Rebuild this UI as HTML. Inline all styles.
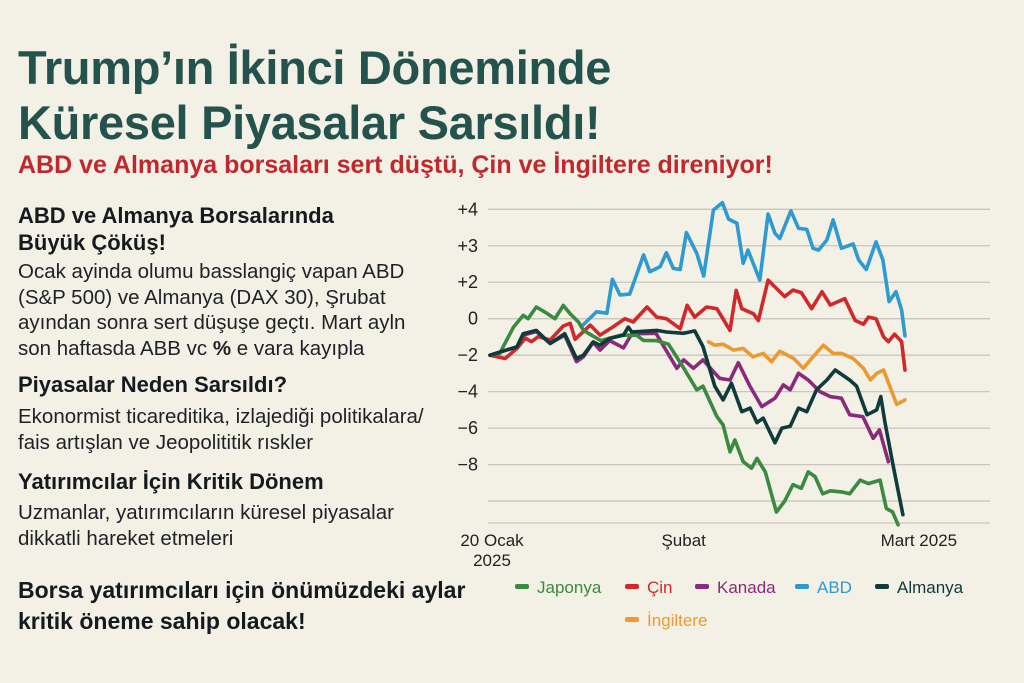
<!DOCTYPE html>
<html><head><meta charset="utf-8">
<style>
body{margin:0;width:1024px;height:683px;background:#f3f0e6;font-family:"Liberation Sans",sans-serif;overflow:hidden;position:relative}
.t{position:absolute;white-space:nowrap;margin:0}
h1.t{font-size:47px;font-weight:bold;color:#24524c;line-height:55px;left:18px;top:40px;letter-spacing:-0.3px}
.sub{font-size:25px;font-weight:bold;color:#c1282e;left:18px;top:151px}
.h{font-size:22px;font-weight:bold;color:#141a1e}
.b{font-size:20.5px;color:#1d2226;line-height:25.5px}
.f{font-size:23px;font-weight:bold;color:#141a1e;line-height:31px}
svg{position:absolute;left:0;top:0}
</style></head><body>
<h1 class="t">Trump’ın İkinci Döneminde<br>Küresel Piyasalar Sarsıldı!</h1>
<div class="t sub">ABD ve Almanya borsaları sert düştü, Çin ve İngiltere direniyor!</div>
<div class="t h" style="left:18px;top:202px;line-height:27px">ABD ve Almanya Borsalarında<br>Büyük Çöküş!</div>
<div class="t b" style="left:18px;top:259px">Ocak ayinda olumu basslangiç vapan ABD<br>(S&amp;P 500) ve Almanya (DAX 30), Şrubat<br>ayından sonra sert düşuşe geçtı. Mart ayln<br>son haftasda ABB vc <b>%</b> e vara kayıpla</div>
<div class="t h" style="left:18px;top:372px">Piyasalar Neden Sarsıldı?</div>
<div class="t b" style="left:18px;top:404px">Ekonormist ticareditika, izlajediği politikalara/<br>fais artışlan ve Jeopolititik rıskler</div>
<div class="t h" style="left:18px;top:469px">Yatırımcılar İçin Kritik Dönem</div>
<div class="t b" style="left:18px;top:500px">Uzmanlar, yatırımcıların küresel piyasalar<br>dikkatli hareket etmeleri</div>
<div class="t f" style="left:18px;top:575px">Borsa yatırımcıları için önümüzdeki aylar<br>kritik öneme sahip olacak!</div>
<svg id="chart" width="1024" height="683"></svg>
<script>
const tickValues=[4,3,2,0,-2,-4,-6,-8,-10];
const tickLabels=["+4","+3","+2","0","−2","−4","−6","−8",""];
const xLabels=[["20 Ocak","2025"],["Şubat"],["Mart 2025"]];
const xLabelDays=[0,28,62];
const seriesNames=["Japonya","Çin","Kanada","ABD","Almanya","İngiltere"];
const seriesColors=["#3a8a3f","#d0292b","#8b2a7a","#2e9bd0","#0f3b3b","#eb9a32"];
const japonyaDays=[0,1.4,3.4,4.8,5.5,6.7,8.2,9.4,10.6,11.6,12.8,13.5,16,19,21.2,22.2,24.1,25.8,27.9,29.9,30.8,32.8,33.7,34.7,35.4,36.6,37.8,38.6,39.8,41.4,42.6,43.8,45,46,47,48.1,49.2,50.8,52,53.5,54.7,56.4,57.3,58.2,59];
const japonyaVals=[-2,-1.9,-0.46,0.18,0,0.64,0.3,0,0.73,0.27,-0.18,-0.64,-1.2,-0.9,-0.91,-1.19,-1.2,-1.4,-2.64,-3.9,-3.7,-5.37,-5.83,-7.3,-6.65,-7.84,-8.2,-7.66,-8.4,-10.6,-10,-9.1,-9.3,-8.4,-8.66,-9.6,-9.44,-9.5,-9.6,-8.85,-9.04,-8.85,-10.4,-10.6,-11.3];
const cinDays=[0,2.2,3.9,5.1,6,7,8.7,10.6,11.6,12.3,14.5,15.9,17.8,19.5,20.7,22.7,24.1,25.5,27.5,28.5,29.6,31.3,32.8,34.7,35.6,36.4,38.1,38.8,40.2,42.6,43.8,45,46.5,48,49.2,51.3,52.8,54,54.7,55.8,56.9,57.6,58.5,59.5,60];
const cinVals=[-2,-2.18,-1.63,-1.07,-1.26,-0.98,-1.17,-0.4,-0.25,-1.13,-0.35,-0.9,-0.45,0,-0.18,0.64,0.09,0,-0.55,0.73,0.09,0.64,0.55,-0.64,1.55,0.55,0.27,-0.1,2.06,1.21,1.57,1.43,0.55,1.48,0.75,1.1,-0.1,-0.3,0.09,0,-1,-1.26,-0.85,-1.26,-2.82];
const kanadaDays=[0,3.9,4.8,6.7,8.7,10.8,12.5,13.5,14.9,15.9,17.3,19.3,20.5,24,27,28,29.4,30.8,32.3,33.2,34.7,35.9,37.6,39.3,41.2,42.4,43.4,44.6,46,47.7,49.2,50.8,52,53.9,55.4,56.3,57.6];
const kanadaVals=[-2,-1.54,-0.9,-0.7,-1.36,-0.9,-2.35,-2.09,-1.3,-1.72,-1.2,-1.6,-0.82,-0.8,-2.72,-2.26,-2.72,-2.26,-2.9,-3.27,-3.36,-2.41,-3.72,-4.82,-4.36,-3.63,-3.9,-2.99,-3.36,-4,-4.27,-4.36,-5.27,-5.37,-6.56,-6.1,-7.84];
const abdDays=[13.3,15.4,16.9,17.7,18.8,20.2,22.2,23.1,24.6,25.5,26.5,27.5,28.4,29.9,30.9,32.3,33.6,34.5,35.7,36.6,37.3,39,40.2,41.2,41.9,43.5,44.6,45.8,46.7,47.5,48.7,49.6,50.8,52.5,53.3,54.4,55.8,56.8,57.7,58.7,59.5,60];
const abdVals=[-0.4,0.38,0.3,2.08,1.3,1.35,2.75,2.29,2.43,2.81,2.38,2.35,3.36,2.79,2.17,3.98,4.18,3.73,3.62,2.52,2.88,2.06,3.87,3.34,3.2,3.96,3.48,3.45,2.93,2.88,3.16,3.71,2.93,3.05,2.61,2.35,3.11,2.61,0.94,1.48,0.48,-0.94];
const almanyaDays=[0,3.9,4.8,6.7,8.7,10.8,12.5,13.5,14.9,15.9,17.3,19.3,20,20.5,24.1,25.5,28,29.6,30.8,32.5,33.7,34.9,36.4,37.6,38.6,39.5,41.2,42.2,43.4,44.6,45.8,47.2,48.7,49.9,52,53,54.5,55.9,56.5,57.1,58.3,59.7];
const almanyaVals=[-2,-1.54,-0.82,-0.64,-1.36,-0.82,-2.18,-2,-1.27,-1.45,-1.08,-0.9,-0.46,-0.73,-0.64,-0.73,-0.8,-0.67,-1.53,-3.7,-4.45,-3.54,-5.1,-4.9,-5.7,-5.45,-6.8,-6,-5.9,-4.9,-5.1,-3.9,-3.36,-2.81,-3.36,-3.7,-5.27,-5,-4.27,-5.7,-8.1,-10.75];
const ingiltereDays=[31.6,32.5,33.7,35.2,36.6,38,39.5,40.7,41.9,43.9,45.3,46.7,48.2,49.6,50.8,52.5,54,55,55.9,56.9,58.8,60];
const ingiltereVals=[-1.27,-1.45,-1.4,-1.72,-1.63,-2.09,-1.9,-2.36,-1.78,-2.18,-2.72,-2.09,-1.45,-1.9,-1.9,-2.18,-2.72,-3.36,-3,-2.81,-4.7,-4.45];

const NS="http://www.w3.org/2000/svg";
const svg=document.getElementById('chart');
function X(d){return 490+d*6.917;}
function Y(v){const lvl=v>=2?4-v:(6-v)/2;return 209.3+lvl*36.47;}
function mk(tag,attrs,parent){const e=document.createElementNS(NS,tag);for(const k in attrs)e.setAttribute(k,attrs[k]);(parent||svg).appendChild(e);return e;}
tickValues.forEach((v,i)=>{
  const g=mk('line',{x1:488,x2:990,y1:Y(v),y2:Y(v),stroke:'#c9c6bd','stroke-width':1.3});
  
  
  const t=mk('text',{x:478,y:Y(v)+6,'text-anchor':'end','font-size':18,fill:'#222','font-family':'Liberation Sans, sans-serif'});
  t.textContent=tickLabels[i];
  
  
});
const base=mk('line',{x1:488,x2:990,y1:523,y2:523,stroke:'#c9c6bd','stroke-width':1.3});


xLabels.forEach((lines,i)=>{
  lines.forEach((s,j)=>{
    const t=mk('text',{x:X(xLabelDays[i])+(i==0?2:0),y:546+j*20,'text-anchor':'middle','font-size':17,fill:'#222','font-family':'Liberation Sans, sans-serif'});
    t.textContent=s;
    
    
  });
});
const allDays=[japonyaDays,cinDays,kanadaDays,abdDays,almanyaDays,ingiltereDays];
const allVals=[japonyaVals,cinVals,kanadaVals,abdVals,almanyaVals,ingiltereVals];
const order=[5,1,3,2,0,4];
order.forEach(i=>{
  const pts=allDays[i].map((d,k)=>X(d).toFixed(1)+','+Y(allVals[i][k]).toFixed(1)).join(' ');
  const p=mk('polyline',{points:pts,fill:'none',stroke:seriesColors[i],'stroke-width':3.6,'stroke-linejoin':'round','stroke-linecap':'round'});
  
  
});
const legX=[515,625,695,795,875,625],legY=[587,587,587,587,587,620];
seriesNames.forEach((n,i)=>{
  const r=mk('rect',{x:legX[i],y:legY[i]-3,width:14,height:5,rx:2,fill:seriesColors[i]});
  
  
  const t=mk('text',{x:legX[i]+22,y:legY[i]+6,'font-size':17,fill:seriesColors[i],'font-family':'Liberation Sans, sans-serif'});
  t.textContent=n;
  
  
});
</script>
</body></html>
